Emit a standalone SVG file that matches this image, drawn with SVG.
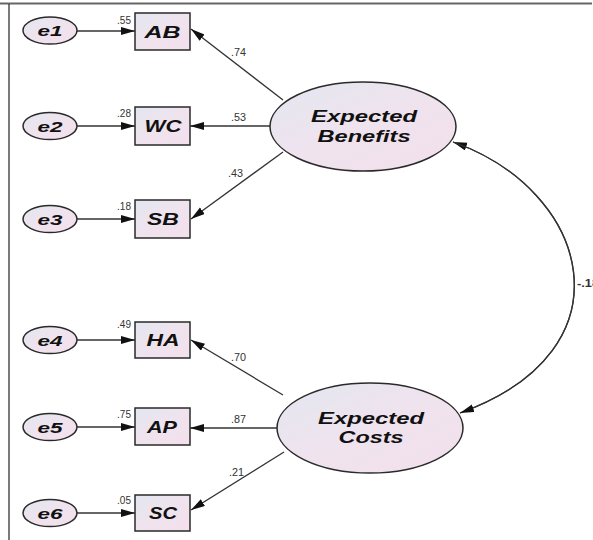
<svg xmlns="http://www.w3.org/2000/svg" width="593" height="540" viewBox="0 0 593 540">
<defs>
<linearGradient id="g" x1="0" y1="0" x2="1" y2="1">
<stop offset="0" stop-color="#e3e7f0"/>
<stop offset="0.5" stop-color="#efe3ee"/>
<stop offset="1" stop-color="#f3e0ec"/>
</linearGradient>
<marker id="ah" markerUnits="userSpaceOnUse" markerWidth="15" markerHeight="9" refX="14" refY="4" orient="auto">
<path d="M0,0 L14,4 L0,8 z" fill="#111"/>
</marker>
</defs>
<style>
.n{fill:url(#g);stroke:#2a2a2a;stroke-width:1.5}
.t{font-family:"Liberation Sans",Arial,sans-serif;font-weight:bold;font-style:italic;fill:#111;text-anchor:middle}
.num{font-family:"Liberation Sans",Arial,sans-serif;font-size:10px;fill:#333}
.c{stroke:#333;stroke-width:1.3;fill:none;marker-end:url(#ah)}
</style>
<rect width="593" height="540" fill="#fff"/>
<line x1="0" y1="3.5" x2="592" y2="3.5" stroke="#666" stroke-width="2"/>
<line x1="9" y1="4" x2="9" y2="540" stroke="#222" stroke-width="1.2"/>

<g id="connectors">
<line class="c" x1="77" y1="31" x2="135" y2="31"/>
<line class="c" x1="77" y1="126" x2="135" y2="126"/>
<line class="c" x1="77" y1="219" x2="135" y2="219"/>
<line class="c" x1="77" y1="340" x2="135" y2="340"/>
<line class="c" x1="77" y1="427" x2="135" y2="427"/>
<line class="c" x1="77" y1="513" x2="135" y2="513"/>
<line class="c" x1="283" y1="100" x2="191" y2="29"/>
<line class="c" x1="270" y1="126" x2="190" y2="126"/>
<line class="c" x1="283" y1="152" x2="191" y2="219"/>
<line class="c" x1="283" y1="395" x2="191" y2="340"/>
<line class="c" x1="277" y1="428" x2="190" y2="428"/>
<line class="c" x1="284" y1="452" x2="191" y2="510"/>
<path d="M460,413 C635,350 590,190 453,142" stroke="#333" stroke-width="1.3" fill="none" marker-end="url(#ah)"/>
<path d="M453,142 C590,190 635,350 460,413" stroke="#333" stroke-width="1.3" fill="none" marker-end="url(#ah)"/>
<text class="num" x="231" y="56" textLength="15" lengthAdjust="spacingAndGlyphs">.74</text>
<text class="num" x="231" y="121" textLength="15" lengthAdjust="spacingAndGlyphs">.53</text>
<text class="num" x="228" y="177" textLength="15" lengthAdjust="spacingAndGlyphs">.43</text>
<text class="num" x="231" y="361" textLength="15" lengthAdjust="spacingAndGlyphs">.70</text>
<text class="num" x="231" y="423" textLength="15" lengthAdjust="spacingAndGlyphs">.87</text>
<text class="num" x="229" y="476" textLength="15" lengthAdjust="spacingAndGlyphs">.21</text>
<text class="num" x="577" y="287" font-size="11" font-weight="bold" textLength="22" lengthAdjust="spacingAndGlyphs">-.18</text>
</g>

<g id="e1"><ellipse class="n" cx="50" cy="30.5" rx="27" ry="13.5"/><text class="t" x="50" y="36" font-size="15" textLength="25" lengthAdjust="spacingAndGlyphs">e1</text></g>
<g id="e2"><ellipse class="n" cx="50" cy="126" rx="27" ry="13.5"/><text class="t" x="50" y="131.5" font-size="15" textLength="25" lengthAdjust="spacingAndGlyphs">e2</text></g>
<g id="e3"><ellipse class="n" cx="50" cy="219" rx="27" ry="13.5"/><text class="t" x="50" y="224.5" font-size="15" textLength="25" lengthAdjust="spacingAndGlyphs">e3</text></g>
<g id="e4"><ellipse class="n" cx="50" cy="340" rx="27" ry="13.5"/><text class="t" x="50" y="345.5" font-size="15" textLength="25" lengthAdjust="spacingAndGlyphs">e4</text></g>
<g id="e5"><ellipse class="n" cx="50" cy="427" rx="27" ry="13.5"/><text class="t" x="50" y="432.5" font-size="15" textLength="25" lengthAdjust="spacingAndGlyphs">e5</text></g>
<g id="e6"><ellipse class="n" cx="50" cy="513" rx="27" ry="13.5"/><text class="t" x="50" y="518.5" font-size="15" textLength="25" lengthAdjust="spacingAndGlyphs">e6</text></g>

<g id="AB"><rect class="n" x="135" y="13" width="55" height="37"/><text class="t" x="162.5" y="38" font-size="17" textLength="36" lengthAdjust="spacingAndGlyphs">AB</text><text class="num" x="131" y="24" text-anchor="end">.55</text></g>
<g id="WC"><rect class="n" x="135" y="107" width="55" height="38"/><text class="t" x="163" y="132" font-size="17" textLength="37" lengthAdjust="spacingAndGlyphs">WC</text><text class="num" x="131" y="117" text-anchor="end">.28</text></g>
<g id="SB"><rect class="n" x="135" y="200" width="55" height="38"/><text class="t" x="163" y="225" font-size="17" textLength="32" lengthAdjust="spacingAndGlyphs">SB</text><text class="num" x="131" y="210" text-anchor="end">.18</text></g>
<g id="HA"><rect class="n" x="135" y="322" width="55" height="36"/><text class="t" x="163" y="346" font-size="17" textLength="33" lengthAdjust="spacingAndGlyphs">HA</text><text class="num" x="131" y="328" text-anchor="end">.49</text></g>
<g id="AP"><rect class="n" x="135" y="408" width="55" height="37"/><text class="t" x="162" y="433" font-size="17" textLength="30" lengthAdjust="spacingAndGlyphs">AP</text><text class="num" x="131" y="418" text-anchor="end">.75</text></g>
<g id="SC"><rect class="n" x="135" y="495" width="55" height="36"/><text class="t" x="163" y="519" font-size="17" textLength="28" lengthAdjust="spacingAndGlyphs">SC</text><text class="num" x="131" y="504" text-anchor="end">.05</text></g>

<g id="ExpectedBenefits"><ellipse class="n" cx="363" cy="126.5" rx="93" ry="44.5"/><text class="t" x="364" y="122" font-size="16" textLength="106" lengthAdjust="spacingAndGlyphs">Expected</text><text class="t" x="364" y="142" font-size="16" textLength="93" lengthAdjust="spacingAndGlyphs">Benefits</text></g>
<g id="ExpectedCosts"><ellipse class="n" cx="370" cy="428" rx="93" ry="45"/><text class="t" x="371" y="424" font-size="16" textLength="106" lengthAdjust="spacingAndGlyphs">Expected</text><text class="t" x="371" y="443" font-size="16" textLength="65" lengthAdjust="spacingAndGlyphs">Costs</text></g>
</svg>
